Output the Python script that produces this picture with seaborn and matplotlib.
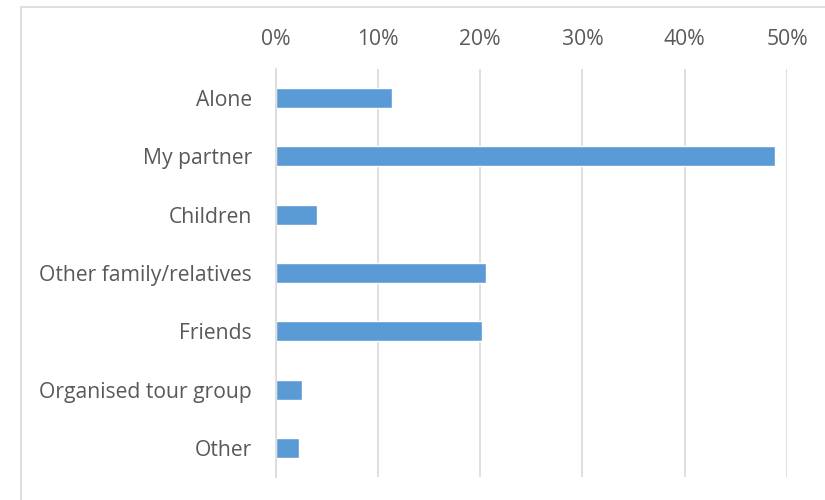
import matplotlib
matplotlib.use("Agg")
import matplotlib.pyplot as plt
import seaborn as sns
import pandas as pd
from matplotlib.lines import Line2D
from matplotlib.ticker import FuncFormatter

categories = ["Alone", "My partner", "Children", "Other family/relatives",
              "Friends", "Organised tour group", "Other"]
shares = [0.114, 0.488, 0.041, 0.206, 0.202, 0.026, 0.023]
tick_values = [0.0, 0.1, 0.2, 0.3, 0.4, 0.5]

df = pd.DataFrame({"category": categories, "share": shares})

sns.set_theme(style="white")
plt.rcParams["font.family"] = ["Open Sans", "DejaVu Sans"]

W, H = 825, 500
fig = plt.figure(figsize=(W / 100, H / 100), dpi=100)
ax = fig.add_axes([275.5 / W, 1 - 477 / H, (787 - 275.5) / W, (477 - 69) / H])

sns.barplot(data=df, x="share", y="category", orient="h", color="#5B9BD5",
            saturation=1, width=0.345, ax=ax)

ax.set_xlim(0, 0.5)
ax.set_ylim(6.5, -0.5)
ax.set_xticks(tick_values)
ax.xaxis.set_major_formatter(FuncFormatter(lambda v, p: f"{v * 100:.0f}%"))
ax.xaxis.tick_top()
ax.tick_params(axis="x", length=0, pad=13.5, labelsize=15.2, labelcolor="#595959")
ax.tick_params(axis="y", length=0, pad=17, labelsize=15.2, labelcolor="#595959")
ax.set_xlabel("")
ax.set_ylabel("")
ax.grid(axis="x", color="#d9d9d9", linewidth=1.2)
ax.set_axisbelow(True)
for side in ["top", "right", "bottom"]:
    ax.spines[side].set_visible(False)
ax.spines["left"].set_color("#d9d9d9")
ax.spines["left"].set_linewidth(1.2)

# chart area frame (left and top edges)
fx, fy = 21 / W, 1 - 7 / H
fig.add_artist(Line2D([fx, fx], [0, fy], transform=fig.transFigure,
                      color="#d9d9d9", linewidth=1.2))
fig.add_artist(Line2D([fx, 1], [fy, fy], transform=fig.transFigure,
                      color="#d9d9d9", linewidth=1.2))

fig.savefig("out.png", dpi=100)
